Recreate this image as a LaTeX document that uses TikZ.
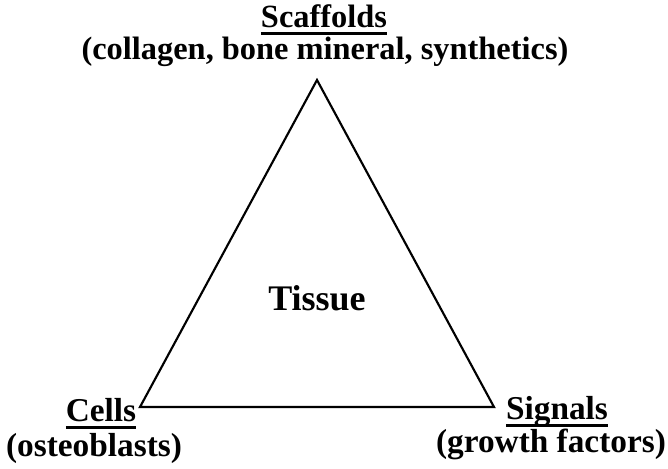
\documentclass[tikz,border=0pt]{standalone}
\usepackage{fontspec}
\setmainfont{Liberation Serif}
\usetikzlibrary{positioning}

% thick underline, as in the figure
\newcommand{\ulthick}[1]{\setbox0\hbox{#1}\rlap{\vrule height -3.4pt depth 5.6pt width \wd0}\box0}

\begin{document}
\begin{tikzpicture}[
    x=0.75pt, y=-0.75pt,
    head/.style={font=\fontsize{24.3}{28}\selectfont\bfseries, inner sep=0pt},
    corner/.style={font=\fontsize{25}{30}\selectfont\bfseries, inner sep=0pt},
    centre/.style={font=\fontsize{27}{32}\selectfont\bfseries, inner sep=0pt},
    side/.style={line width=1.6pt, line join=miter}
]
\useasboundingbox (0,0) rectangle (668,468);

% --- Corners of the triangle ---
\coordinate (top)   at (317, 80);
\coordinate (left)  at (140,407);
\coordinate (right) at (494,407);

% --- Triangle ---
\draw[side] (top) -- (left) -- (right) -- cycle;

% --- Labels ---
\node[head] (scaf)  at (324, 20) {\ulthick{Scaffolds}};
\node[head] (scafx) at (325, 52) {(collagen, bone mineral, synthetics)};
\node[centre] (tissue) at (317,298) {Tissue};
\node[corner] (cells)  at (101,414) {\ulthick{Cells}};
\node[corner] (cellsx) at (94,448) {(osteoblasts)};
\node[corner] (sig)    at (557,412) {\ulthick{Signals}};
\node[corner] (sigx)   at (551,444) {(growth factors)};

\end{tikzpicture}
\end{document}
